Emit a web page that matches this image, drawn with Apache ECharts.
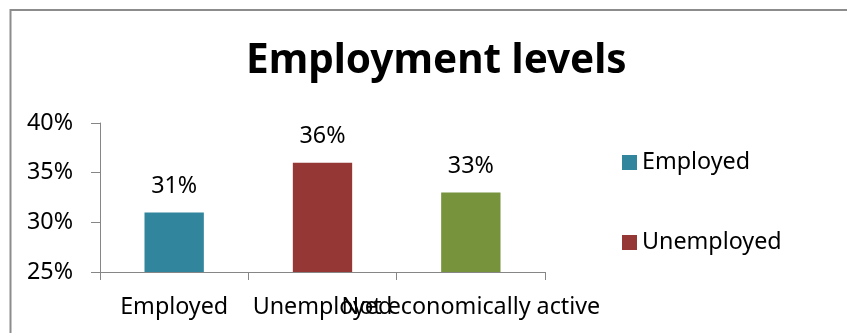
<!DOCTYPE html>
<html>
<head>
<meta charset="utf-8">
<script src="https://cdn.jsdelivr.net/npm/echarts@6/dist/echarts.min.js"></script>
<style>html,body{margin:0;padding:0;background:#fff}#c{width:847px;height:333px}</style>
</head>
<body>
<div id="c"></div>
<script>
const categories = ['Employed', 'Unemployed', 'Not economically active'];
const seriesNames = ['Employed', 'Unemployed', 'Not economically active'];
const values = [31, 36, 33];
const legendNames = ['Employed', 'Unemployed'];
const yTicks = [25, 30, 35, 40];
const colors = ['#31859C', '#953735', '#77933C'];

const FONT = 'Noto Sans';
const FS = 23.3;
const chart = echarts.init(document.getElementById('c'), null, {renderer: 'canvas'});
const series = seriesNames.map((name, i) => ({
  name: name,
  type: 'bar',
  barWidth: '40%',
  barGap: '-100%',
  itemStyle: {color: colors[i]},
  data: categories.map((c, j) => j === i ? values[i] : null),
  label: {
    show: true, position: 'top', distance: 15,
    formatter: '{c}%', color: '#000', fontFamily: FONT, fontSize: FS
  }
}));
chart.setOption({
  animation: false,
  title: {
    text: 'Employment levels', left: 241, top: 36,
    textStyle: {fontFamily: FONT, fontWeight: 'bold', fontSize: 40.5, color: '#000'}
  },
  legend: {
    data: legendNames, orient: 'vertical', left: 617, top: 146,
    itemWidth: 15, itemHeight: 15, itemGap: 57, icon: 'rect',
    textStyle: {fontFamily: FONT, fontSize: FS, color: '#000'}
  },
  graphic: [{
    type: 'rect', shape: {x: 10.5, y: 10, width: 900, height: 400},
    style: {fill: 'none', stroke: '#8c8c8c', lineWidth: 2}, silent: true
  }],
  grid: {left: 100, right: 302, top: 123, bottom: 61},
  xAxis: {
    type: 'category', data: categories,
    axisLine: {lineStyle: {color: '#868686', width: 1}},
    axisTick: {show: true, length: 8, lineStyle: {color: '#868686'}},
    axisLabel: {interval: 0, color: '#000', fontFamily: FONT, fontSize: FS, margin: 24}
  },
  yAxis: {
    type: 'value', min: yTicks[0], max: yTicks[yTicks.length-1], interval: 5,
    axisLine: {show: true, lineStyle: {color: '#868686', width: 1}},
    axisTick: {show: true, length: 9, lineStyle: {color: '#868686'}},
    splitLine: {show: false},
    axisLabel: {formatter: '{value}%', color: '#000', fontFamily: FONT, fontSize: FS, margin: 27}
  },
  series: series
});
</script>
</body>
</html>
